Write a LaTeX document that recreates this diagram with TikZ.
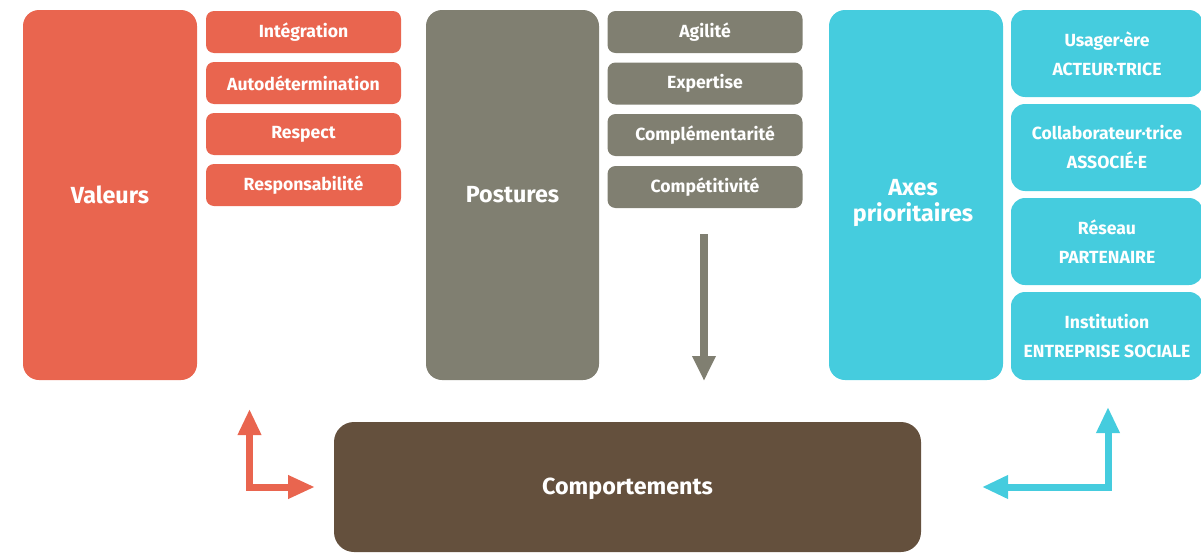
\documentclass[tikz,border=0pt]{standalone}
\usepackage{fontspec}
\setmainfont{Fira Sans}
\usetikzlibrary{arrows.meta}
\definecolor{cred}{HTML}{E9654F}
\definecolor{cgrey}{HTML}{807F71}
\definecolor{ccyan}{HTML}{45CCDE}
\definecolor{cbrown}{HTML}{64503D}
\tikzset{
  box/.style={rectangle, inner sep=0pt, text=white, align=center},
  bigbox/.style={box, minimum width=174pt, minimum height=370pt, rounded corners=16pt, font=\fontsize{23.3}{26}\selectfont\bfseries},
  smallbox/.style={box, minimum width=195pt, minimum height=42pt, rounded corners=8pt, font=\fontsize{17.6}{29}\selectfont\bfseries},
  axebox/.style={box, minimum width=192pt, minimum height=87pt, rounded corners=14pt, font=\fontsize{17.6}{29}\selectfont\bfseries},
  flowarrow/.style={line width=7pt, line join=miter},
}
\begin{document}
\begin{tikzpicture}[x=1pt,y=-1pt]
\useasboundingbox (0,0) rectangle (1201,554);
% Valeurs
\node[bigbox, fill=cred] (val) at (110,195) {Valeurs};
\node[smallbox, fill=cred] (v1) at (303.5,32) {Intégration};
\node[smallbox, fill=cred] (v2) at (303.5,83) {Autodétermination};
\node[smallbox, fill=cred] (v3) at (303.5,134) {Respect};
\node[smallbox, fill=cred] (v4) at (303.5,185) {Responsabilité};
% Postures
\node[bigbox, fill=cgrey, minimum width=173pt] (pos) at (512.5,195) {Postures};
\node[smallbox, fill=cgrey] (p1) at (705,32) {Agilité};
\node[smallbox, fill=cgrey] (p2) at (705,83.5) {Expertise};
\node[smallbox, fill=cgrey] (p3) at (705,135) {Complémentarité};
\node[smallbox, fill=cgrey] (p4) at (705,187) {Compétitivité};
% Axes
\node[bigbox, fill=ccyan] (axe) at (916,195) {};
\node[text=white, align=center, inner sep=0pt, font=\fontsize{23.3}{26}\selectfont\bfseries] (axet) at (913,203) {Axes\\prioritaires};
\node[axebox, fill=ccyan] (a1) at (1107,53.5) {Usager·ère\\ACTEUR·TRICE};
\node[axebox, fill=ccyan] (a2) at (1107,147.5) {Collaborateur·trice\\ASSOCIÉ·E};
\node[axebox, fill=ccyan] (a3) at (1107,241.5) {Réseau\\PARTENAIRE};
\node[axebox, fill=ccyan, minimum height=88pt] (a4) at (1107,336) {Institution\\ENTREPRISE SOCIALE};
% Comportements
\node[box, fill=cbrown, minimum width=587pt, minimum height=130pt, rounded corners=20pt, font=\fontsize{23.3}{26}\selectfont\bfseries] (comp) at (627.5,487) {};
\node[text=white, inner sep=0pt, font=\fontsize{23.3}{26}\selectfont\bfseries] (compt) at (627.5,489) {Comportements};
% arrows
\coordinate (gs) at (704,234);
\coordinate (ge) at (704,381);
\draw[cgrey, line width=8pt, -{Triangle[width=22pt,length=25pt]}] (gs) -- (ge);
\coordinate (rt) at (249.5,409);
\coordinate (rc) at (249.5,487);
\coordinate (rr) at (315,487);
\draw[cred, flowarrow, {Triangle[width=22pt,length=26pt]}-{Triangle[width=22pt,length=27pt]}] (rt) -- (rc) -- (rr);
\coordinate (ct) at (1108,407);
\coordinate (cc) at (1108,487);
\coordinate (cl) at (982,487);
\draw[ccyan, flowarrow, {Triangle[width=22pt,length=26pt]}-{Triangle[width=22pt,length=26pt]}] (ct) -- (cc) -- (cl);
\end{tikzpicture}
\end{document}
